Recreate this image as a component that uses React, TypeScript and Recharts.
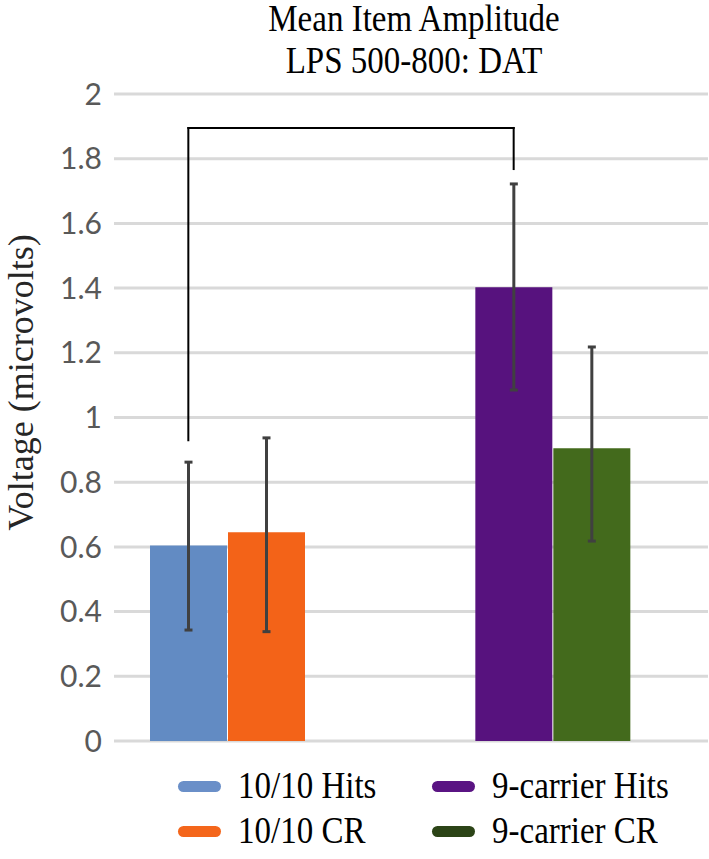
import React from 'react';
import { BarChart, Bar, XAxis, YAxis, CartesianGrid, ErrorBar, Cell, Legend, ReferenceLine } from 'recharts';

// ---- data ----
const categories = ['10/10', '9-carrier'];
const seriesNames = ['10/10 Hits', '10/10 CR', '9-carrier Hits', '9-carrier CR'];
const hitsValues = [0.604, 1.403];
const crValues = [0.645, 0.905];
const hitsErrLow = [0.261, 0.318];
const hitsErrHigh = [0.258, 0.319];
const crErrLow = [0.307, 0.287];
const crErrHigh = [0.292, 0.313];
const yTicks = [0, 0.2, 0.4, 0.6, 0.8, 1, 1.2, 1.4, 1.6, 1.8, 2];
const titleLines = ['Mean Item Amplitude', 'LPS 500-800: DAT'];
const yLabel = 'Voltage (microvolts)';
// significance bracket: from 10/10 Hits to 9-carrier Hits
const bracketTop = 1.895;
const bracketLeftEnd = 0.93;
const bracketRightEnd = 1.768;

// ---- styles ----
const barColors = ['#628BC3', '#F36318', '#57127E', '#436A1C'];
const legendColors = ['#6A8FC8', '#F4661B', '#5A1483', '#2C4417'];
const BAR_SIZE = 77;
const BAR_GAP = 1;
const HALF = (BAR_SIZE + BAR_GAP) / 2;
const SERIF = "'Liberation Serif', 'Times New Roman', serif";

const SPACER = 'spacer';
const data = [
  { cat: categories[0], hits: hitsValues[0], cr: crValues[0], hitsErr: [hitsErrLow[0], hitsErrHigh[0]], crErr: [crErrLow[0], crErrHigh[0]], g: 0 },
  { cat: SPACER, hits: null, cr: null, hitsErr: null, crErr: null, g: -1 },
  { cat: categories[1], hits: hitsValues[1], cr: crValues[1], hitsErr: [hitsErrLow[1], hitsErrHigh[1]], crErr: [crErrLow[1], crErrHigh[1]], g: 1 },
];

const BracketLine = (p: any) => (
  <line
    x1={p.x1 - HALF}
    y1={p.y1}
    x2={p.x2 - HALF}
    y2={p.y2}
    stroke="#000"
    strokeWidth={2}
    strokeLinecap="square"
  />
);

const YLabel = (props: any) => {
  const vb = props.viewBox || {};
  const x = vb.x + 33;
  const y = vb.y + vb.height / 2 - 35;
  return (
    <text
      x={x}
      y={y}
      transform={`rotate(-90, ${x}, ${y})`}
      textAnchor="middle"
      fontFamily={SERIF}
      fontSize={36}
      fill="#262626"
    >
      {yLabel}
    </text>
  );
};

const LegendContent = () => (
  <div style={{ position: 'relative', width: 709, height: 118 }}>
    {seriesNames.map((name, si) => {
      const col = Math.floor(si / 2);
      const row = si % 2;
      const left = col === 0 ? 178 : 432;
      const cy = row === 0 ? 45 : 90;
      return (
        <div key={si} style={{ position: 'absolute', left, top: cy - 20, height: 40, display: 'flex', alignItems: 'center' }}>
          <div style={{ width: 43, height: 11, borderRadius: 6, background: legendColors[si] }} />
          <span
            style={{
              marginLeft: 17,
              fontFamily: SERIF,
              fontSize: 33,
              color: '#000',
              whiteSpace: 'nowrap',
              lineHeight: '40px',
              display: 'inline-block',
              transform: 'scaleY(1.12)',
            }}
          >
            {name}
          </span>
        </div>
      );
    })}
  </div>
);

export default function App() {
  return (
    <div style={{ position: 'absolute', left: 0, top: 0, width: 709, height: 859, background: '#fff' }}>
      <div
        style={{
          position: 'absolute',
          left: 114,
          top: -2,
          width: 600,
          textAlign: 'center',
          fontFamily: SERIF,
          fontSize: 33,
          lineHeight: '42px',
          color: '#000',
          zIndex: 2,
        }}
      >
        {titleLines.map((t) => (
          <div key={t} style={{ transform: 'scaleY(1.12)' }}>{t}</div>
        ))}
      </div>
      <BarChart
        width={709}
        height={859}
        data={data}
        margin={{ top: 94, right: 1, bottom: 0, left: 0 }}
        barSize={BAR_SIZE}
        barGap={BAR_GAP}
      >
        <CartesianGrid vertical={false} stroke="#D9D9D9" strokeWidth={3} />
        <XAxis dataKey="cat" hide padding={{ left: 32, right: 74 }} />
        <YAxis
          domain={[0, 2]}
          ticks={yTicks}
          interval={0}
          width={114}
          axisLine={false}
          tickLine={false}
          tickMargin={6}
          tick={{ fontFamily: 'Lato, Carlito, sans-serif', fontSize: 30, fill: '#595959' }}
          label={<YLabel />}
        />
        <Legend verticalAlign="bottom" content={<LegendContent />} wrapperStyle={{ left: 0, width: 709 }} />
        <Bar dataKey="hits" isAnimationActive={false}>
          {data.map((d, i) => (
            <Cell key={i} fill={d.g >= 0 ? barColors[d.g * 2] : 'none'} />
          ))}
          <ErrorBar dataKey="hitsErr" width={4} stroke="#404040" strokeWidth={3} isAnimationActive={false} />
        </Bar>
        <Bar dataKey="cr" isAnimationActive={false}>
          {data.map((d, i) => (
            <Cell key={i} fill={d.g >= 0 ? barColors[d.g * 2 + 1] : 'none'} />
          ))}
          <ErrorBar dataKey="crErr" width={4} stroke="#404040" strokeWidth={3} isAnimationActive={false} />
        </Bar>
        <ReferenceLine
          segment={[{ x: categories[0], y: bracketLeftEnd }, { x: categories[0], y: bracketTop }]}
          shape={BracketLine}
          ifOverflow="visible"
        />
        <ReferenceLine
          segment={[{ x: categories[0], y: bracketTop }, { x: categories[1], y: bracketTop }]}
          shape={BracketLine}
          ifOverflow="visible"
        />
        <ReferenceLine
          segment={[{ x: categories[1], y: bracketTop }, { x: categories[1], y: bracketRightEnd }]}
          shape={BracketLine}
          ifOverflow="visible"
        />
      </BarChart>
    </div>
  );
}
